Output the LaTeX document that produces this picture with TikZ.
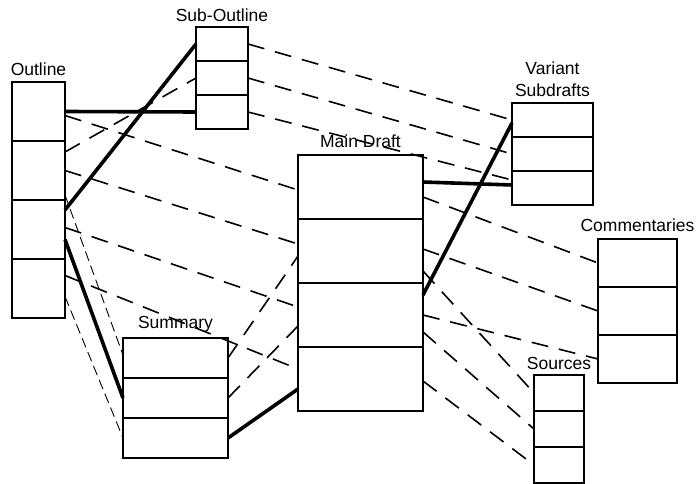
\documentclass[tikz,border=0pt]{standalone}
\usepackage{fontspec}
\setsansfont{Liberation Sans}
\usepackage{tikz}
\usetikzlibrary{positioning}

\begin{document}
\begin{tikzpicture}[
  x=1pt, y=-1pt,
  node distance=0pt,
  cell/.style 2 args={
    rectangle, draw, line width=1.2pt, inner sep=0pt, outer sep=0pt,
    minimum width=#1, minimum height=#2
  },
  lbl/.style={font=\sffamily\fontsize{17.5}{22}\selectfont, inner sep=0pt, align=center, text depth=0pt},
  link/.style={line width=1.6pt, dash pattern=on 17pt off 11pt},
  faint/.style={line width=0.9pt, dash pattern=on 10pt off 5pt},
  strong/.style={line width=3.6pt}
]
\useasboundingbox (0,0) rectangle (696,484);

% Outline
\node[cell={53pt}{59pt}] (out1) at (38.5,111.5) {};
\node[cell={53pt}{59pt}, below=of out1] (out2) {};
\node[cell={53pt}{59pt}, below=of out2] (out3) {};
\node[cell={53pt}{59pt}, below=of out3] (out4) {};
\node[lbl, above=6pt of out1] {Outline};

% Sub-Outline
\node[cell={52pt}{34pt}] (sub1) at (222,44) {};
\node[cell={52pt}{34pt}, below=of sub1] (sub2) {};
\node[cell={52pt}{34pt}, below=of sub2] (sub3) {};
\node[lbl, above=5pt of sub1] {Sub-Outline};

% Summary
\node[cell={105pt}{40pt}] (sum1) at (175.5,358) {};
\node[cell={105pt}{40pt}, below=of sum1] (sum2) {};
\node[cell={105pt}{40pt}, below=of sum2] (sum3) {};
\node[lbl, above=9pt of sum1] {Summary};

% Main Draft
\node[cell={125pt}{64pt}] (main1) at (360.5,187) {};
\node[cell={125pt}{64pt}, below=of main1] (main2) {};
\node[cell={125pt}{64pt}, below=of main2] (main3) {};
\node[cell={125pt}{64pt}, below=of main3] (main4) {};
\node[lbl, above=7pt of main1] {Main Draft};

% Variant Subdrafts
\node[cell={81pt}{34pt}] (var1) at (552.5,120) {};
\node[cell={81pt}{34pt}, below=of var1] (var2) {};
\node[cell={81pt}{34pt}, below=of var2] (var3) {};
\node[lbl, above=6pt of var1] {Variant\\Subdrafts};

% Commentaries
\node[cell={79pt}{48pt}] (com1) at (637.5,263) {};
\node[cell={79pt}{48pt}, below=of com1] (com2) {};
\node[cell={79pt}{48pt}, below=of com2] (com3) {};
\node[lbl, above=7pt of com1] {Commentaries};

% Sources
\node[cell={50pt}{36pt}] (src1) at (559,393) {};
\node[cell={50pt}{36pt}, below=of src1] (src2) {};
\node[cell={50pt}{36pt}, below=of src2] (src3) {};
\node[lbl, above=5pt of src1] {Sources};

% from the outline
\draw[strong] (out1.east) -- (sub3.west);
\draw[strong] ([yshift=-10pt]out3.north east) -- (sub1.west);
\draw[strong] ([yshift=-10pt]out3.east) -- (sum2.west);
\draw[link] ([yshift=-4pt]out1.east) -- ([yshift=-3pt]main1.west);
\draw[link] ([yshift=-11pt]out2.north east) -- (sub2.west);
\draw[link] (out2.east) -- ([yshift=7pt]main2.west);
\draw[link] ([yshift=2pt]out3.east) -- ([yshift=8pt]main3.west);
\draw[link] ([yshift=13pt]out4.east) -- ([yshift=10pt]main4.west);
\draw[faint] ([yshift=5pt]out2.south east) -- ([yshift=3pt]sum1.west);
\draw[faint] ([yshift=-8pt]out4.east) -- (sum3.west);

% from the summary
\draw[link] (sum1.east) -- ([yshift=-5pt]main2.west);
\draw[link] (sum2.east) -- ([yshift=-11pt]main3.west);
\draw[strong] (sum3.east) -- ([yshift=-10pt]main4.west);

% from the sub-outline
\draw[link] (sub1.east) -- (var1.west);
\draw[link] (sub2.east) -- (var2.west);
\draw[link] (sub3.east) -- ([yshift=8pt]var3.west);

% from the main draft
\draw[strong] ([yshift=5pt]main1.east) -- ([yshift=3pt]var3.west);
\draw[strong] ([yshift=-12pt]main3.north east) -- ([yshift=-3pt]var1.west);
\draw[link] ([yshift=-10pt]main1.east) -- (com1.west);
\draw[link] ([yshift=2pt]main2.east) -- (com2.west);
\draw[link] (main3.east) -- (com3.west);
\draw[link] ([yshift=-20pt]main2.east) -- (src1.west);
\draw[link] ([yshift=-17pt]main3.east) -- (src2.west);
\draw[link] ([yshift=-2pt]main4.east) -- (src3.west);
\end{tikzpicture}
\end{document}
